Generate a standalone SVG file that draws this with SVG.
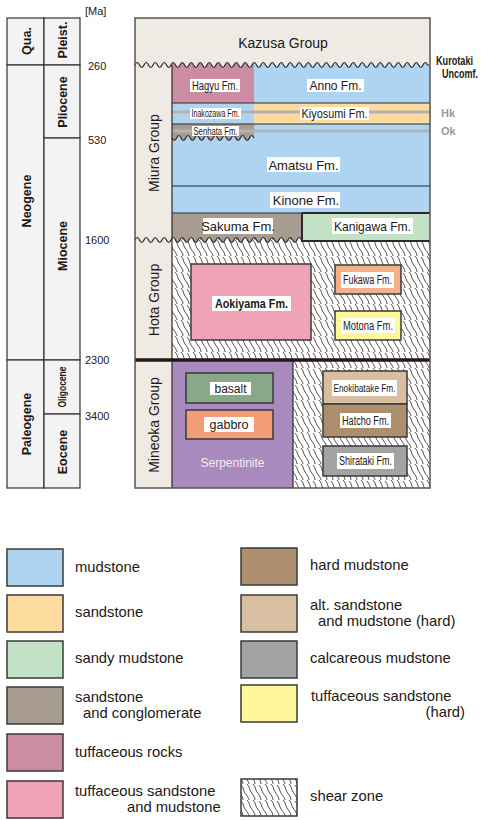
<svg xmlns="http://www.w3.org/2000/svg" width="482" height="820" viewBox="0 0 482 820">
<style>
text{font-family:"Liberation Sans",Arial,sans-serif;fill:#231815}
.ts{font-size:12.5px;font-weight:bold;text-anchor:middle}
.num{font-size:11px}
.grp{font-size:14px;text-anchor:middle}
.lb{font-size:12px;text-anchor:middle}
.lg{font-size:14.8px}
.wb{fill:#fff}
.ln{stroke:#2a2a2a;stroke-width:1.2;fill:none}
.bx{stroke:#3a3a3a;stroke-width:1.5}
.cell{fill:#f3f3f3;stroke:#333;stroke-width:1.2}
</style>
<defs>
<pattern id="shear" width="18" height="16" patternUnits="userSpaceOnUse">
<rect width="18" height="16" fill="#fff"/>
<g fill="none" stroke="#231815" stroke-width="0.75">
<path d="M1,0 C4,3 3,5 5,8 S9,13 9,16"/>
<path d="M7,1 C10,4 9,6 11,9 S15,14 15,16"/>
<path d="M13,0 C16,3 15,5 17,8 S21,13 21,16"/>
<path d="M-5,0 C-2,3 -3,5 -1,8 S3,13 3,16"/>
<path d="M-11,1 C-8,4 -9,6 -7,9 S-3,14 -3,16"/>
<path d="M19,1 C22,4 21,6 23,9"/>
</g>
</pattern>
</defs>

<g id="timescale">
<rect class="cell" x="7" y="18" width="37" height="47"/>
<rect class="cell" x="44" y="18" width="36" height="47"/>
<rect class="cell" x="7" y="65" width="37" height="295"/>
<rect class="cell" x="44" y="65" width="36" height="73"/>
<rect class="cell" x="44" y="138" width="36" height="222"/>
<rect class="cell" x="7" y="360" width="37" height="128"/>
<rect class="cell" x="44" y="360" width="36" height="54"/>
<rect class="cell" x="44" y="414" width="36" height="74"/>
<text class="ts" transform="translate(30.5,41) rotate(-90)">Qua.</text>
<text class="ts" transform="translate(66.5,40) rotate(-90)">Pleist.</text>
<text class="ts" transform="translate(66.5,102) rotate(-90)">Pliocene</text>
<text class="ts" transform="translate(30.5,201) rotate(-90)">Neogene</text>
<text class="ts" transform="translate(66.5,246) rotate(-90)">Miocene</text>
<text class="ts" transform="translate(30.5,424) rotate(-90)">Paleogene</text>
<text class="ts" style="font-size:10px" textLength="41" lengthAdjust="spacingAndGlyphs" transform="translate(65.5,387) rotate(-90)">Oligocene</text>
<text class="ts" transform="translate(66.5,452) rotate(-90)">Eocene</text>
<text class="num" x="85" y="15">[Ma]</text>
<text class="num" x="88" y="70">260</text>
<text class="num" x="88" y="144">530</text>
<text class="num" x="85" y="244">1600</text>
<text class="num" x="85" y="364">2300</text>
<text class="num" x="85" y="420">3400</text>
</g>

<g id="chart-fills">
<rect x="135" y="18" width="295" height="470" fill="#efebe4"/>
<rect x="172" y="60" width="82" height="43" fill="#cc8ca2"/>
<rect x="254" y="60" width="176" height="43" fill="#aed4f1"/>
<rect x="172" y="103" width="82" height="21" fill="#aed4f1"/>
<rect x="254" y="103" width="176" height="21" fill="#fddb9e"/>
<rect x="172" y="124" width="258" height="62" fill="#aed4f1"/>
<path d="M172,138 q2.278,5 4.556,0 t4.556,0 t4.556,0 t4.556,0 t4.556,0 t4.556,0 t4.556,0 t4.556,0 t4.556,0 t4.556,0 t4.556,0 t4.556,0 t4.556,0 t4.556,0 t4.556,0 t4.556,0 t4.556,0 t4.556,0 V124 H172 Z" fill="#a89b8f"/>
<rect x="172" y="186" width="258" height="27" fill="#aed4f1"/>
<rect x="172" y="213" width="130" height="32" fill="#a89b8f"/>
<rect x="302" y="213" width="128" height="27" fill="#c2e1c5"/>
<path d="M135,240 q2.25,-5 4.5,0 t4.5,0 t4.5,0 t4.5,0 t4.5,0 t4.5,0 t4.5,0 t4.5,0 t4.5,0 t4.5,0 t4.5,0 t4.5,0 t4.5,0 t4.5,0 t4.5,0 t4.5,0 t4.5,0 t4.5,0 t4.5,0 t4.5,0 t4.5,0 t4.5,0 t4.5,0 t4.5,0 t4.5,0 t4.5,0 t4.5,0 t4.5,0 t4.5,0 t4.5,0 t4.5,0 t4.5,0 t4.5,0 t4.5,0 t4.5,0 t4.5,0 t4.5,0 L302,240 H430 V360 H135 Z" fill="url(#shear)"/>
<rect x="293" y="360" width="137" height="128" fill="url(#shear)"/>
<rect x="172" y="360" width="121" height="128" fill="#a98abf"/>
<rect x="135" y="236" width="37" height="252" fill="#efebe4"/>
<path d="M135,65 q2.25,-5 4.5,0 t4.5,0 t4.5,0 t4.5,0 t4.5,0 t4.5,0 t4.5,0 t4.5,0 t4.5,0 t4.5,0 t4.5,0 t4.5,0 t4.5,0 t4.5,0 t4.5,0 t4.5,0 t4.5,0 t4.5,0 t4.5,0 t4.5,0 t4.5,0 t4.5,0 t4.5,0 t4.5,0 t4.5,0 t4.5,0 t4.5,0 t4.5,0 t4.5,0 t4.5,0 t4.5,0 t4.5,0 t4.5,0 t4.5,0 t4.5,0 t4.5,0 t4.5,0 t4.5,0 t4.5,0 t4.5,0 t4.5,0 t4.5,0 t4.5,0 t4.5,0 t4.5,0 t4.5,0 t4.5,0 t4.5,0 t4.5,0 t4.5,0 t4.5,0 t4.5,0 t4.5,0 t4.5,0 t4.5,0 t4.5,0 t4.5,0 t4.5,0 t4.5,0 t4.5,0 t4.5,0 t4.5,0 t4.5,0 t4.5,0 t4.5,0 L430,65 V18 H135 Z" fill="#efebe4"/>
</g>

<g id="connectors">
<line x1="172" y1="112" x2="430" y2="112" stroke="#b3b3b3" stroke-width="3"/>
<line x1="172" y1="131" x2="430" y2="131" stroke="#b3b3b3" stroke-width="3"/>
<path class="ln" d="M135,65 q2.25,-5 4.5,0 t4.5,0 t4.5,0 t4.5,0 t4.5,0 t4.5,0 t4.5,0 t4.5,0 t4.5,0 t4.5,0 t4.5,0 t4.5,0 t4.5,0 t4.5,0 t4.5,0 t4.5,0 t4.5,0 t4.5,0 t4.5,0 t4.5,0 t4.5,0 t4.5,0 t4.5,0 t4.5,0 t4.5,0 t4.5,0 t4.5,0 t4.5,0 t4.5,0 t4.5,0 t4.5,0 t4.5,0 t4.5,0 t4.5,0 t4.5,0 t4.5,0 t4.5,0 t4.5,0 t4.5,0 t4.5,0 t4.5,0 t4.5,0 t4.5,0 t4.5,0 t4.5,0 t4.5,0 t4.5,0 t4.5,0 t4.5,0 t4.5,0 t4.5,0 t4.5,0 t4.5,0 t4.5,0 t4.5,0 t4.5,0 t4.5,0 t4.5,0 t4.5,0 t4.5,0 t4.5,0 t4.5,0 t4.5,0 t4.5,0 t4.5,0 L430,65"/>
<path class="ln" d="M172,138 q2.278,5 4.556,0 t4.556,0 t4.556,0 t4.556,0 t4.556,0 t4.556,0 t4.556,0 t4.556,0 t4.556,0 t4.556,0 t4.556,0 t4.556,0 t4.556,0 t4.556,0 t4.556,0 t4.556,0 t4.556,0 t4.556,0"/>
<path class="ln" d="M135,240 q2.25,-5 4.5,0 t4.5,0 t4.5,0 t4.5,0 t4.5,0 t4.5,0 t4.5,0 t4.5,0 t4.5,0 t4.5,0 t4.5,0 t4.5,0 t4.5,0 t4.5,0 t4.5,0 t4.5,0 t4.5,0 t4.5,0 t4.5,0 t4.5,0 t4.5,0 t4.5,0 t4.5,0 t4.5,0 t4.5,0 t4.5,0 t4.5,0 t4.5,0 t4.5,0 t4.5,0 t4.5,0 t4.5,0 t4.5,0 t4.5,0 t4.5,0 t4.5,0 t4.5,0 L302,240"/>
<path class="ln" d="M172,103 H430 M172,124 H430 M172,186 H430 M172,213 H302 M172,65 V488 M293,361 V488"/>
<path class="ln" style="stroke-width:2" d="M302,213 H430 M302,213 V241 H430"/>
<line x1="135" y1="360" x2="430" y2="360" stroke="#231815" stroke-width="3.5"/>
<rect x="135" y="18" width="295" height="470" fill="none" stroke="#555" stroke-width="1.5"/>
</g>

<g id="groups">
<text class="grp" x="283" y="48">Kazusa Group</text>
<text class="grp" transform="translate(158.5,153) rotate(-90)">Miura Group</text>
<text class="grp" transform="translate(158.5,300) rotate(-90)">Hota Group</text>
<text class="grp" transform="translate(158.5,425) rotate(-90)">Mineoka Group</text>
</g>

<g id="formations">
<g id="hagyu"><rect class="wb" x="190" y="79" width="50" height="13"/><text class="lb" x="215" y="90" textLength="46" lengthAdjust="spacingAndGlyphs">Hagyu Fm.</text></g>
<g id="anno"><rect class="wb" x="307" y="79" width="57" height="13"/><text class="lb" x="335.5" y="90">Anno Fm.</text></g>
<g id="inakozawa"><rect class="wb" x="190" y="108" width="51" height="11"/><text class="lb" style="font-size:10px" x="215.5" y="117" textLength="48" lengthAdjust="spacingAndGlyphs">Inakozawa Fm.</text></g>
<g id="kiyosumi"><rect class="wb" x="300" y="107" width="69" height="13"/><text class="lb" x="334.5" y="118" textLength="66" lengthAdjust="spacingAndGlyphs">Kiyosumi Fm.</text></g>
<g id="senhata"><rect class="wb" x="192" y="126" width="47" height="10"/><text class="lb" style="font-size:10px" x="215.5" y="135" textLength="44" lengthAdjust="spacingAndGlyphs">Senhata Fm.</text></g>
<g id="amatsu"><rect class="wb" x="267" y="157" width="73" height="15"/><text class="lb" style="font-size:13px" x="303.5" y="169.5">Amatsu Fm.</text></g>
<g id="kinone"><rect class="wb" x="270" y="192" width="70" height="16"/><text class="lb" style="font-size:13px" x="306" y="205">Kinone Fm.</text></g>
<g id="sakuma"><rect class="wb" x="203" y="218" width="70" height="16"/><text class="lb" style="font-size:13px" x="238" y="230.5">Sakuma Fm.</text></g>
<g id="kanigawa"><rect class="wb" x="332" y="218" width="81" height="16"/><text class="lb" style="font-size:13px" x="372.5" y="230.5" textLength="77" lengthAdjust="spacingAndGlyphs">Kanigawa Fm.</text></g>
<g id="aokiyama"><rect class="bx" x="191" y="264" width="120" height="76" fill="#f0a3b7"/><rect class="wb" x="212" y="296" width="79" height="15"/><text class="lb" style="font-weight:bold;font-size:12.5px" x="251.5" y="308" textLength="73" lengthAdjust="spacingAndGlyphs">Aokiyama Fm.</text></g>
<g id="fukawa"><rect class="bx" x="335" y="265" width="66" height="29" fill="#f5b08a"/><rect class="wb" x="341" y="272" width="53" height="16"/><text class="lb" style="font-size:12px" x="367.5" y="284" textLength="49" lengthAdjust="spacingAndGlyphs">Fukawa Fm.</text></g>
<g id="motona"><rect class="bx" x="335" y="311" width="66" height="29" fill="#fff79a"/><rect class="wb" x="341" y="318" width="54" height="15"/><text class="lb" style="font-size:12px" x="368" y="330" textLength="50" lengthAdjust="spacingAndGlyphs">Motona Fm.</text></g>
<g id="basalt"><rect class="bx" x="186" y="373" width="87" height="30" fill="#88a888"/><rect class="wb" x="210" y="382" width="41" height="13"/><text class="lb" x="230.5" y="393">basalt</text></g>
<g id="gabbro"><rect class="bx" x="186" y="410" width="87" height="29" fill="#f29d78"/><rect class="wb" x="204" y="417" width="50" height="15"/><text class="lb" style="font-size:12.5px" x="229" y="429">gabbro</text></g>
<g id="serpentinite"><text class="lb" style="fill:#f0eaf5" x="232.5" y="467">Serpentinite</text></g>
<g id="enokibatake"><rect class="bx" x="323" y="371" width="84" height="33" fill="#d8bfa1"/><rect class="wb" x="332" y="380" width="65" height="16"/><text class="lb" style="font-size:11.5px" x="364.5" y="392" textLength="62" lengthAdjust="spacingAndGlyphs">Enokibatake Fm.</text></g>
<g id="hatcho"><rect class="bx" x="323" y="404" width="84" height="33" fill="#ae8f6d"/><rect class="wb" x="340" y="413" width="51" height="15"/><text class="lb" style="font-size:12px" x="365.5" y="425" textLength="47" lengthAdjust="spacingAndGlyphs">Hatcho Fm.</text></g>
<g id="shirataki"><rect class="bx" x="323" y="446" width="84" height="30" fill="#a2a3a2"/><rect class="wb" x="337" y="453" width="57" height="16"/><text class="lb" style="font-size:12px" x="365.5" y="465" textLength="53" lengthAdjust="spacingAndGlyphs">Shirataki Fm.</text></g>
</g>

<g id="side-labels">
<text style="font-size:12.5px;font-weight:bold" transform="translate(436,65) scale(0.73,1)">Kurotaki</text>
<text style="font-size:12.5px;font-weight:bold" transform="translate(442,78) scale(0.72,1)">Uncomf.</text>
<text style="font-size:11px;font-weight:bold;fill:#999" x="441" y="117">Hk</text>
<text style="font-size:11px;font-weight:bold;fill:#999" x="441" y="135">Ok</text>
</g>

<g id="legend">
<rect class="bx" x="7" y="549" width="56" height="37" fill="#aed4f1"/>
<rect class="bx" x="7" y="595" width="56" height="37" fill="#fddb9e"/>
<rect class="bx" x="7" y="641" width="56" height="37" fill="#c2e1c5"/>
<rect class="bx" x="7" y="687" width="56" height="37" fill="#a89b8f"/>
<rect class="bx" x="7" y="734" width="56" height="37" fill="#cc8ca2"/>
<rect class="bx" x="7" y="781" width="56" height="37" fill="#f0a3b7"/>
<rect class="bx" x="241" y="548" width="56" height="37" fill="#ae8f6d"/>
<rect class="bx" x="241" y="595" width="56" height="37" fill="#d8bfa1"/>
<rect class="bx" x="241" y="641" width="56" height="37" fill="#a2a3a2"/>
<rect class="bx" x="241" y="685" width="56" height="37" fill="#fff79a"/>
<rect class="bx" x="241" y="779" width="56" height="37" fill="url(#shear)"/>
<text class="lg" x="75" y="572">mudstone</text>
<text class="lg" x="75" y="617">sandstone</text>
<text class="lg" x="75" y="663">sandy mudstone</text>
<text class="lg" x="75" y="702">sandstone</text>
<text class="lg" x="83" y="718">and conglomerate</text>
<text class="lg" x="75" y="757">tuffaceous rocks</text>
<text class="lg" x="75" y="796">tuffaceous sandstone</text>
<text class="lg" x="127" y="812">and mudstone</text>
<text class="lg" x="310" y="570">hard mudstone</text>
<text class="lg" x="310" y="610">alt. sandstone</text>
<text class="lg" x="318" y="626">and mudstone (hard)</text>
<text class="lg" x="310" y="663">calcareous mudstone</text>
<text class="lg" x="311" y="701">tuffaceous sandstone</text>
<text class="lg" x="465" y="717" text-anchor="end">(hard)</text>
<text class="lg" x="310" y="801">shear zone</text>
</g>
</svg>
